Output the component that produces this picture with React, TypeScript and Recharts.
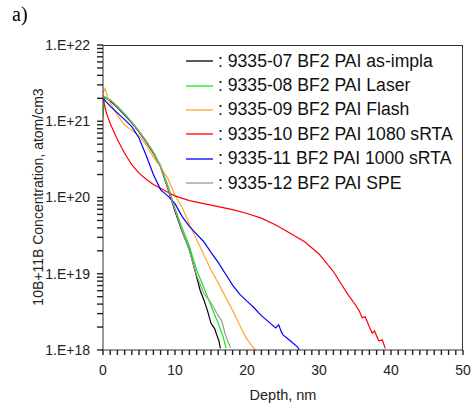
import { LineChart, Line, XAxis, YAxis, Legend } from "recharts";

if (typeof document !== "undefined") document.body.style.margin = "0";

// depth (nm) and B concentration (atom/cm3) for each sample
const depthAsImpla = [0, 1, 2, 3, 4, 5, 6, 7, 8, 9, 10, 11, 12, 13, 13.5, 14, 14.5, 15, 15.5, 15.8, 16.1, 16.3];
const concAsImpla = [2.14e21, 1.86e21, 1.51e21, 1.2e21, 9.55e20, 7.24e20, 5.37e20, 3.8e20, 2.51e20, 1.32e20, 6.61e19, 3.55e19, 2.09e19, 9.12e18, 6.03e18, 4.57e18, 3.31e18, 2.24e18, 1.91e18, 1.58e18, 1.32e18, 1.05e18];

const depthLaser = [0, 0.2, 1, 2, 3, 4, 5, 6, 7, 8, 9, 10, 11, 12, 13, 14, 15, 16, 16.7, 17.1];
const concLaser = [1.1e21, 2.0e21, 1.91e21, 1.55e21, 1.23e21, 9.77e20, 7.41e20, 5.5e20, 3.98e20, 2.63e20, 1.45e20, 7.24e19, 3.98e19, 2.29e19, 1.12e19, 6.61e18, 3.8e18, 2.24e18, 1.48e18, 1.05e18];

const depthFlash = [0, 0.3, 0.75, 2, 3, 4, 5, 6, 7, 8, 9, 10, 11, 12, 13, 14, 15, 16, 17, 18, 19, 20, 20.8, 21.2];
const concFlash = [2.34e21, 2.69e21, 1.91e21, 1.2e21, 8.91e20, 7.59e20, 6.46e20, 4.9e20, 3.39e20, 2.51e20, 1.78e20, 1.07e20, 7.41e19, 4.47e19, 2.82e19, 1.78e19, 1.12e19, 7.59e18, 5.01e18, 3.31e18, 2.09e18, 1.38e18, 1.1e18, 1.0e18];

const depthRta1080 = [0, 0.5, 1, 2, 3, 4, 5, 6, 7, 8, 9, 10, 12, 14, 16, 18, 20, 22, 24, 26, 28, 30, 32, 34, 35, 35.6, 36, 36.4, 37, 37.4, 37.7, 38.3, 38.8, 39.2];
const concRta1080 = [2.0e21, 1.26e21, 9.33e20, 5.75e20, 3.8e20, 2.69e20, 2.09e20, 1.74e20, 1.48e20, 1.32e20, 1.17e20, 1.05e20, 9.12e19, 8.32e19, 7.59e19, 6.92e19, 6.17e19, 5.37e19, 4.37e19, 3.39e19, 2.63e19, 1.82e19, 1.07e19, 5.37e18, 3.98e18, 3.24e18, 2.63e18, 2.75e18, 2.0e18, 1.66e18, 1.78e18, 1.32e18, 1.35e18, 1.05e18];

const depthRta1000 = [0, 1, 2, 3, 4, 5, 6, 7, 8, 9, 10, 11, 12, 13, 14, 15, 16, 17, 18, 19, 20, 21, 22, 23, 24, 24.4, 24.8, 25, 26, 27, 27.3];
const concRta1000 = [2.0e21, 1.58e21, 1.29e21, 1.05e21, 8.51e20, 6.03e20, 3.55e20, 2.0e20, 1.26e20, 1.05e20, 8.32e19, 5.62e19, 4.17e19, 3.31e19, 2.63e19, 1.91e19, 1.41e19, 1.0e19, 7.08e18, 5.37e18, 4.37e18, 3.55e18, 2.82e18, 2.34e18, 1.95e18, 2.14e18, 1.7e18, 1.58e18, 1.32e18, 1.1e18, 1.0e18];

const depthSpe = [0, 1, 2, 3, 4, 5, 6, 7, 8, 9, 10, 11, 12, 13, 14, 15, 16, 16.5, 17, 17.7];
const concSpe = [2.14e21, 1.91e21, 1.58e21, 1.26e21, 9.77e20, 7.41e20, 5.5e20, 3.89e20, 2.51e20, 1.35e20, 6.92e19, 3.63e19, 2.0e19, 9.55e18, 5.5e18, 4.17e18, 2.82e18, 2.4e18, 1.58e18, 1.07e18];

const seriesNames = [
  ": 9335-07 BF2 PAI as-impla",
  ": 9335-08 BF2 PAI Laser",
  ": 9335-09 BF2 PAI Flash",
  ": 9335-10 BF2 PAI 1080 sRTA",
  ": 9335-11 BF2 PAI 1000 sRTA",
  ": 9335-12 BF2 PAI SPE",
];
const seriesColors = ["#000000", "#11ee11", "#ffa530", "#ff0000", "#0000ff", "#999999"];

const decades = [18, 19, 20, 21, 22];
const depthTicks = Array.from({ length: 51 }, (_, i) => i);

const toPoints = (xs: number[], ys: number[]) => xs.map((x, i) => ({ x, y: ys[i] }));

const series = [
  toPoints(depthAsImpla, concAsImpla),
  toPoints(depthLaser, concLaser),
  toPoints(depthFlash, concFlash),
  toPoints(depthRta1080, concRta1080),
  toPoints(depthRta1000, concRta1000),
  toPoints(depthSpe, concSpe),
];

const concTicks = decades.flatMap((e) =>
  e === 22 ? [10 ** e] : [1, 2, 3, 4, 5, 6, 7, 8, 9].map((m) => m * 10 ** e)
);

const font = "'Liberation Sans', Arial, sans-serif";
const axisColor = "#333";
const tickText = { fill: "#222", fontSize: 14, fontFamily: font };
const tickLine = { stroke: "#222", strokeWidth: 1.4 };

function fmtConc(v: number) {
  const e = Math.round(Math.log10(v));
  return Math.abs(v / 10 ** e - 1) < 1e-6 ? `1.E+${e}` : "";
}

function LegendBox(props: any) {
  const items = props.payload || [];
  return (
    <div style={{ fontFamily: font, fontSize: 17.6, color: "#111" }}>
      {items.map((it: any) => (
        <div key={it.value} style={{ display: "flex", alignItems: "center", height: 24.4 }}>
          <svg width={32} height={4} style={{ flex: "none" }}>
            <line x1={0} y1={2} x2={27} y2={2} stroke={it.color} strokeWidth={1.3} />
          </svg>
          <span style={{ whiteSpace: "nowrap" }}>{it.value}</span>
        </div>
      ))}
    </div>
  );
}

export default function App() {
  return (
    <div style={{ position: "relative", width: 472, height: 404, background: "#fff", fontFamily: font }}>
      <div style={{ position: "absolute", left: 12, top: 3, fontFamily: "'Liberation Serif', serif", fontSize: 20 }}>a)</div>
      <LineChart width={472} height={404} margin={{ top: 45, right: 9, bottom: 24, left: 0 }}>
        <XAxis
          dataKey="x"
          type="number"
          domain={[0, 50]}
          allowDataOverflow
          ticks={depthTicks}
          interval={0}
          tickFormatter={(v: number) => (v % 10 === 0 ? String(v) : "")}
          tick={tickText}
          tickLine={tickLine}
          tickSize={5}
          tickMargin={10}
          stroke={axisColor}
          height={30}
        />
        <YAxis
          type="number"
          scale="log"
          domain={[1e18, 1e22]}
          allowDataOverflow
          ticks={concTicks}
          interval={0}
          tickFormatter={fmtConc}
          tick={tickText}
          tickLine={tickLine}
          tickSize={6}
          tickMargin={7}
          stroke={axisColor}
          width={103}
        />
        <Legend
          layout="vertical"
          align="center"
          verticalAlign="middle"
          wrapperStyle={{ top: 49, left: 186, width: 285 }}
          content={LegendBox}
        />
        {series.map((pts, i) => (
          <Line
            key={seriesNames[i]}
            data={pts}
            dataKey="y"
            name={seriesNames[i]}
            stroke={seriesColors[i]}
            strokeWidth={1.2}
            dot={false}
            isAnimationActive={false}
          />
        ))}
      </LineChart>
      <div
        style={{
          position: "absolute",
          left: 103,
          top: 45,
          width: 360,
          height: 305,
          borderTop: `1px solid ${axisColor}`,
          borderRight: `1px solid ${axisColor}`,
          boxSizing: "border-box",
          pointerEvents: "none",
        }}
      />
      <div
        style={{
          position: "absolute",
          left: 38,
          top: 197,
          transform: "translate(-50%, -50%) rotate(-90deg)",
          whiteSpace: "nowrap",
          fontSize: 14,
          color: "#222",
        }}
      >
        10B+11B Concentration, atom/cm3
      </div>
      <div
        style={{
          position: "absolute",
          left: 283,
          top: 395,
          transform: "translate(-50%, -50%)",
          whiteSpace: "nowrap",
          fontSize: 14.5,
          color: "#222",
        }}
      >
        Depth, nm
      </div>
    </div>
  );
}
